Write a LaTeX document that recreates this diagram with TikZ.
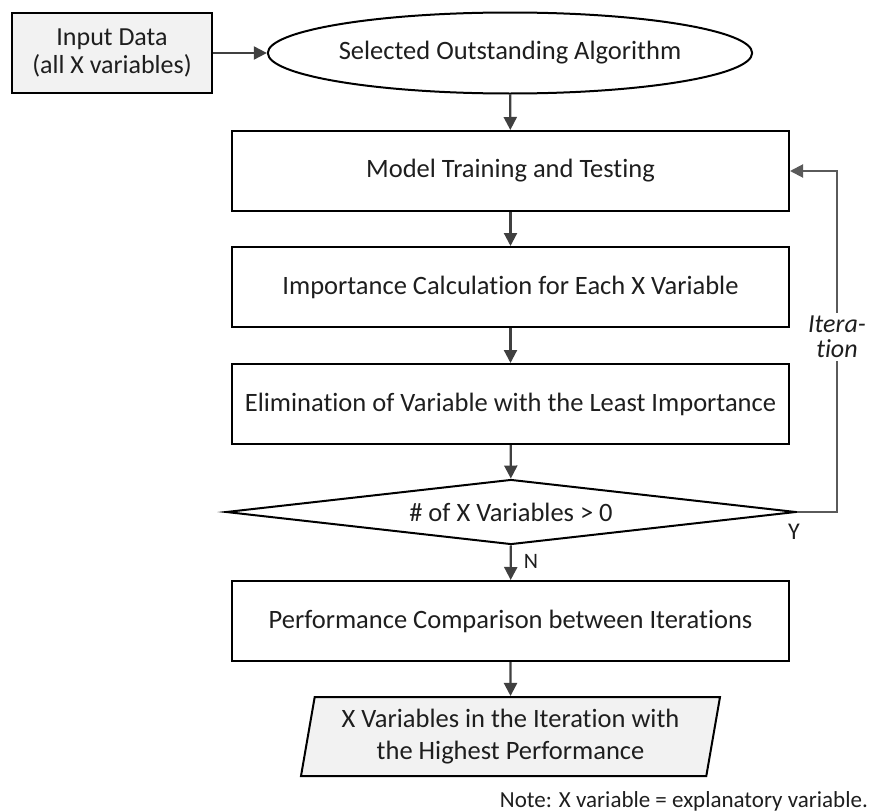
\documentclass[tikz,border=0pt]{standalone}
\usepackage{fontspec}
\setmainfont{Carlito}[Ligatures=NoCommon]
\usetikzlibrary{shapes.geometric,arrows.meta,calc}
\definecolor{boxfill}{HTML}{F2F2F2}
\definecolor{arrowgray}{HTML}{404040}
\definecolor{loopgray}{HTML}{5A5A5A}
\definecolor{inkcol}{HTML}{1E1E1E}
\begin{document}
\begin{tikzpicture}[x=1pt,y=-1pt,
  every node/.style={font=\fontsize{26.5}{31}\selectfont, text=inkcol},
  shapeline/.style={draw=black, line width=2pt},
  procbox/.style={shapeline, rectangle, minimum width=557pt, minimum height=80pt, inner sep=0pt},
  flow/.style={draw=arrowgray, line width=2.2pt, -{Triangle[length=13pt,width=13pt]}},
  loopflow/.style={draw=loopgray, line width=2pt, -{Triangle[length=13pt,width=13pt]}},
  smalllabel/.style={font=\fontsize{24}{28}\selectfont, inner sep=0pt}
]
\useasboundingbox (0,0) rectangle (870,811);

% input and algorithm
\node[shapeline, rectangle, fill=boxfill, minimum width=200pt, minimum height=80pt,
      inner sep=0pt, align=center, font=\fontsize{26}{28}\selectfont] (input) at (112,53)
      {Input Data\\(all X variables)};
\node[shapeline, ellipse, minimum width=420pt, minimum height=81pt, inner sep=0pt] (algo)
      at (510,53) {Selected Outstanding Algorithm};

% main process chain
\node[procbox] (train) at (510.5,171) {Model Training and Testing};
\node[procbox] (imp)   at (510.5,287) {Importance Calculation for Each X Variable};
\node[procbox] (elim)  at (510.5,404) {Elimination of Variable with the Least Importance};
\node[shapeline, diamond, aspect=8.8, minimum width=570pt, minimum height=65pt,
      inner sep=0pt] (dec) at (511,512) {\# of X Variables > 0};
\node[procbox] (perf)  at (510.5,621) {Performance Comparison between Iterations};
\node[shapeline, trapezium, fill=boxfill, trapezium left angle=76, trapezium right angle=104,
      trapezium stretches body, minimum width=419pt, minimum height=79pt, inner sep=0pt,
      align=center, font=\fontsize{26.5}{32}\selectfont] (out) at (510.5,736.5)
      {X Variables in the Iteration with\\the Highest Performance};

% connectors
\draw[flow] (input) -- (algo);
\draw[flow] (algo) -- (train);
\draw[flow] (train) -- (imp);
\draw[flow] (imp) -- (elim);
\draw[flow] (elim) -- (dec);
\draw[flow] (dec) -- (perf);
\draw[flow] (perf) -- (out);

% iteration loop
\coordinate (loopcorner) at (837,512);
\draw[loopflow] (dec.east) -- (loopcorner) |- (train.east);
\node[fill=white, inner sep=3pt, align=center, font=\itshape\fontsize{26}{25}\selectfont]
      (iter) at (837,337) {Itera-\\tion};

% branch labels
\node[smalllabel, anchor=base] (ylab) at (794,539) {Y};
\node[smalllabel, anchor=base, font=\fontsize{22}{26}\selectfont] (nlab) at (531,568) {N};

% footnote
\node[anchor=base east, inner sep=0pt, font=\fontsize{23}{27}\selectfont] (note)
      at (868,807) {Note: X variable = explanatory variable.};
\end{tikzpicture}
\end{document}
